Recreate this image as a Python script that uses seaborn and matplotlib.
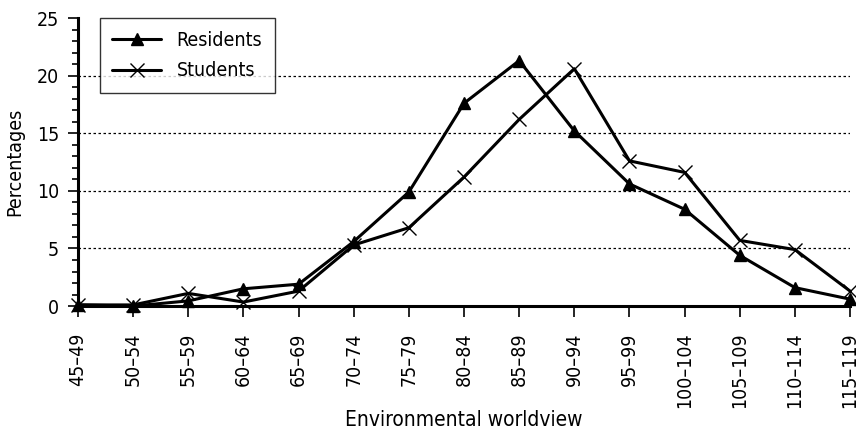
import matplotlib
matplotlib.use("Agg")
import matplotlib.pyplot as plt
from matplotlib import font_manager
from matplotlib.ticker import MultipleLocator
import seaborn as sns
import pandas as pd

categories = ["45–49", "50–54", "55–59", "60–64", "65–69", "70–74", "75–79",
              "80–84", "85–89", "90–94", "95–99", "100–104", "105–109",
              "110–114", "115–119"]
residents = [0.1, 0.0, 0.45, 1.5, 1.9, 5.6, 9.9, 17.6, 21.3, 15.2, 10.6, 8.4, 4.4, 1.6, 0.6]
students = [0.1, 0.1, 1.1, 0.35, 1.3, 5.3, 6.8, 11.2, 16.2, 20.6, 12.6, 11.6, 5.7, 4.9, 1.3]

sns.set_theme(style="white")

narrow = None
for cand in ["Liberation Sans Narrow", "DejaVu Sans Condensed"]:
    try:
        font_manager.findfont(cand, fallback_to_default=False)
        narrow = cand
        break
    except Exception:
        pass
fams = ([narrow] if narrow else []) + ["DejaVu Sans"]
plt.rcParams['font.family'] = fams
if not narrow:
    plt.rcParams['font.stretch'] = 'condensed'
for k in ["text.color", "axes.labelcolor", "xtick.color", "ytick.color"]:
    plt.rcParams[k] = "black"

df = pd.DataFrame({
    "pos": list(range(len(categories))) * 2,
    "value": residents + students,
    "series": ["Residents"] * len(categories) + ["Students"] * len(categories),
})

fig = plt.figure(figsize=(8.56, 4.36), dpi=100)
ax = fig.add_axes([0.0911, 0.298, 0.902, 0.6607])

for name, marker, ms, mew in [("Residents", "^", 9, 1), ("Students", "x", 9.5, 1.0)]:
    sub = df[df["series"] == name]
    sns.lineplot(data=sub, x="pos", y="value", ax=ax, color="black", linewidth=2.2,
                 marker=marker, markersize=ms, markeredgewidth=mew,
                 markeredgecolor="black", markerfacecolor="black", label=name,
                 clip_on=False, zorder=3)

ax.set_xlim(0, len(categories) - 1)
ax.set_ylim(0, 25)
ax.set_xticks(range(len(categories)))
ax.set_xticklabels(categories, rotation=90, fontsize=14)
ax.yaxis.set_major_locator(MultipleLocator(5))
ax.yaxis.set_minor_locator(MultipleLocator(1))
ax.tick_params(axis="y", which="major", direction="out", length=7.5, width=1.2,
               labelsize=14, left=True, color="black", labelcolor="black", pad=6)
ax.tick_params(axis="y", which="minor", direction="out", length=4, width=1.2,
               left=True, color="black")
ax.tick_params(axis="x", which="major", direction="out", length=8, width=1.2,
               bottom=True, color="black", labelcolor="black", pad=11)

for v in [5, 10, 15, 20]:
    ax.axhline(v, color="black", linewidth=0.9, linestyle=(0, (2, 2)), zorder=1)

for s in ["top", "right"]:
    ax.spines[s].set_visible(False)
for s in ["left", "bottom"]:
    ax.spines[s].set_color("black")
    ax.spines[s].set_linewidth(2.2)

ax.set_xlabel("Environmental worldview", fontsize=15, color="black")
ax.xaxis.set_label_coords(0.5, -(410 - 306) / 288)
ax.set_ylabel("Percentages", fontsize=14, color="black")
ax.yaxis.set_label_coords(-(78 - 24) / 772, 0.5)

leg = ax.legend(loc="upper left", bbox_to_anchor=(0.028, 1.0), frameon=True,
                fancybox=False, edgecolor="black", fontsize=14,
                handlelength=2.5, borderpad=0.65, labelspacing=0.6,
                handletextpad=0.8, borderaxespad=0)
leg.get_frame().set_linewidth(1.0)
leg.get_frame().set_facecolor("white")
leg.set_zorder(5)
for t in leg.get_texts():
    t.set_color("black")

fig.savefig("out.png", dpi=100)
